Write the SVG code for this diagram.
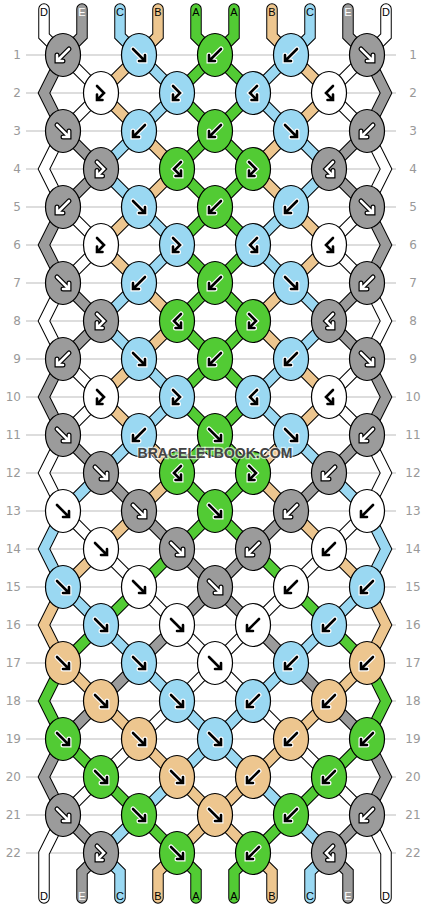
<svg xmlns="http://www.w3.org/2000/svg" xmlns:xlink="http://www.w3.org/1999/xlink" width="430" height="908" viewBox="0 0 430 908">
<style>
.grid{stroke:#bbb;stroke-width:1;fill:none}
.ol{stroke:#000;stroke-width:11.5;fill:none;stroke-linecap:round;stroke-linejoin:miter}
.sw,.se,.sc,.sb,.sa{stroke-width:9.5;fill:none;stroke-linecap:round;stroke-linejoin:miter}
.sw{stroke:#fff}.se{stroke:#9b9b9b}.sc{stroke:#9ad8f2}.sb{stroke:#edc68f}.sa{stroke:#52cb34}
.w{fill:#fff}.g{fill:#9b9b9b}.b{fill:#9ad8f2}.t{fill:#edc68f}.a{fill:#52cb34}
.u{fill:none;stroke-width:5;stroke-linecap:round;stroke-linejoin:miter}
.o{fill:none;stroke-width:2.6;stroke-linecap:round;stroke-linejoin:miter}
.kw{stroke:#fff}.kk{stroke:#000}
.num{font-family:"DejaVu Sans",sans-serif;font-size:12px;fill:#999}
.nl{text-anchor:end}.nr{text-anchor:middle}
.lab{font-family:"Liberation Sans",Arial,sans-serif;font-size:11px;text-anchor:middle;fill:#000}
.lw{fill:#fff}
.wm{font-family:"Liberation Sans",Arial,sans-serif;font-weight:bold;font-size:14px;text-anchor:middle;fill:#444;stroke:#fff;stroke-opacity:0.6;stroke-width:2.5;paint-order:stroke}
</style>
<defs>
<ellipse id="kn" rx="17.5" ry="21.5" stroke="#000" stroke-width="1.2"/>
<path id="pF" d="M-6,-6 L5,5 M6,0 V6 H0"/>
<path id="pB" d="M6,-6 L-5,5 M-6,0 V6 H0"/>
<path id="pFB" d="M-4,-7 L3,0 L-3.3,6.3 M-4,1.5 V7 H1.5"/>
<path id="pBF" d="M4,-7 L-3,0 L3.3,6.3 M4,1.5 V7 H-1.5"/>
<g id="Fl"><use href="#pF" class="u kw"/><use href="#pF" class="o kk"/></g>
<g id="Bl"><use href="#pB" class="u kw"/><use href="#pB" class="o kk"/></g>
<g id="FBl"><use href="#pFB" class="u kw"/><use href="#pFB" class="o kk"/></g>
<g id="BFl"><use href="#pBF" class="u kw"/><use href="#pBF" class="o kk"/></g>
<g id="Fd"><use href="#pF" class="u kk"/><use href="#pF" class="o kw"/></g>
<g id="Bd"><use href="#pB" class="u kk"/><use href="#pB" class="o kw"/></g>
<g id="FBd"><use href="#pFB" class="u kk"/><use href="#pFB" class="o kw"/></g>
<g id="BFd"><use href="#pBF" class="u kk"/><use href="#pBF" class="o kw"/></g>
</defs>
<rect width="430" height="908" fill="#fff"/>
<g id="grid">
<path class="grid" d="M26,55H396M26,93H396M26,131H396M26,169H396M26,207H396M26,245H396M26,283H396M26,321H396M26,359H396M26,397H396M26,435H396M26,473H396M26,511H396M26,549H396M26,587H396M26,625H396M26,663H396M26,701H396M26,739H396M26,777H396M26,815H396M26,853H396"/>
</g>
<g id="row-numbers" class="num">
<text class="nl" x="21" y="59">1</text><text class="nl" x="21" y="97">2</text><text class="nl" x="21" y="135">3</text><text class="nl" x="21" y="173">4</text><text class="nl" x="21" y="211">5</text><text class="nl" x="21" y="249">6</text><text class="nl" x="21" y="287">7</text><text class="nl" x="21" y="325">8</text><text class="nl" x="21" y="363">9</text><text class="nl" x="21" y="401">10</text><text class="nl" x="21" y="439">11</text><text class="nl" x="21" y="477">12</text><text class="nl" x="21" y="515">13</text><text class="nl" x="21" y="553">14</text><text class="nl" x="21" y="591">15</text><text class="nl" x="21" y="629">16</text><text class="nl" x="21" y="667">17</text><text class="nl" x="21" y="705">18</text><text class="nl" x="21" y="743">19</text><text class="nl" x="21" y="781">20</text><text class="nl" x="21" y="819">21</text><text class="nl" x="21" y="857">22</text>
<text class="nr" x="413" y="59">1</text><text class="nr" x="413" y="97">2</text><text class="nr" x="413" y="135">3</text><text class="nr" x="413" y="173">4</text><text class="nr" x="413" y="211">5</text><text class="nr" x="413" y="249">6</text><text class="nr" x="413" y="287">7</text><text class="nr" x="413" y="325">8</text><text class="nr" x="413" y="363">9</text><text class="nr" x="413" y="401">10</text><text class="nr" x="413" y="439">11</text><text class="nr" x="413" y="477">12</text><text class="nr" x="413" y="515">13</text><text class="nr" x="413" y="553">14</text><text class="nr" x="413" y="591">15</text><text class="nr" x="413" y="629">16</text><text class="nr" x="413" y="667">17</text><text class="nr" x="413" y="705">18</text><text class="nr" x="413" y="743">19</text><text class="nr" x="413" y="781">20</text><text class="nr" x="413" y="819">21</text><text class="nr" x="413" y="857">22</text>
</g>
<g id="connectors">
<g class="ol">
<use href="#s0"/><use href="#s1"/><use href="#s2"/><use href="#s3"/><use href="#s4"/><use href="#s5"/><use href="#s6"/><use href="#s7"/><use href="#s8"/><use href="#s9"/>
</g>
<g class="sw">
<path id="s0" d="M44,9 V36 L63,55 L101,93 L63,131 L44,169 L63,207 L101,245 L63,283 L44,321 L63,359 L101,397 L63,435 L44,473 L63,511 L101,549 L139,587 L177,625 L215,663 L253,701 L291,739 L329,777 L367,815 L386,853 V898"/>
<path id="s9" d="M386,9 V36 L367,55 L329,93 L367,131 L386,169 L367,207 L329,245 L367,283 L386,321 L367,359 L329,397 L367,435 L386,473 L367,511 L329,549 L291,587 L253,625 L215,663 L177,701 L139,739 L101,777 L63,815 L44,853 V898"/>
</g>
<g class="se">
<path id="s1" d="M82,9 V36 L63,55 L44,93 L63,131 L101,169 L63,207 L44,245 L63,283 L101,321 L63,359 L44,397 L63,435 L101,473 L139,511 L177,549 L215,587 L253,625 L291,663 L329,701 L367,739 L386,777 L367,815 L329,853 L348,872 V898"/>
<path id="s8" d="M348,9 V36 L367,55 L386,93 L367,131 L329,169 L367,207 L386,245 L367,283 L329,321 L367,359 L386,397 L367,435 L329,473 L291,511 L253,549 L215,587 L177,625 L139,663 L101,701 L63,739 L44,777 L63,815 L101,853 L82,872 V898"/>
</g>
<g class="sc">
<path id="s2" d="M120,9 V36 L139,55 L177,93 L139,131 L101,169 L139,207 L177,245 L139,283 L101,321 L139,359 L177,397 L139,435 L101,473 L63,511 L44,549 L63,587 L101,625 L139,663 L177,701 L215,739 L253,777 L291,815 L329,853 L310,872 V898"/>
<path id="s7" d="M310,9 V36 L291,55 L253,93 L291,131 L329,169 L291,207 L253,245 L291,283 L329,321 L291,359 L253,397 L291,435 L329,473 L367,511 L386,549 L367,587 L329,625 L291,663 L253,701 L215,739 L177,777 L139,815 L101,853 L120,872 V898"/>
</g>
<g class="sb">
<path id="s3" d="M158,9 V36 L139,55 L101,93 L139,131 L177,169 L139,207 L101,245 L139,283 L177,321 L139,359 L101,397 L139,435 L177,473 L139,511 L101,549 L63,587 L44,625 L63,663 L101,701 L139,739 L177,777 L215,815 L253,853 L272,872 V898"/>
<path id="s6" d="M272,9 V36 L291,55 L329,93 L291,131 L253,169 L291,207 L329,245 L291,283 L253,321 L291,359 L329,397 L291,435 L253,473 L291,511 L329,549 L367,587 L386,625 L367,663 L329,701 L291,739 L253,777 L215,815 L177,853 L158,872 V898"/>
</g>
<g class="sa">
<path id="s4" d="M196,9 V36 L215,55 L253,93 L215,131 L177,169 L215,207 L253,245 L215,283 L177,321 L215,359 L253,397 L215,435 L177,473 L215,511 L253,549 L291,587 L329,625 L367,663 L386,701 L367,739 L329,777 L291,815 L253,853 L234,872 V898"/>
<path id="s5" d="M234,9 V36 L215,55 L177,93 L215,131 L253,169 L215,207 L177,245 L215,283 L253,321 L215,359 L177,397 L215,435 L253,473 L215,511 L177,549 L139,587 L101,625 L63,663 L44,701 L63,739 L101,777 L139,815 L177,853 L196,872 V898"/>
</g>
</g>
<g id="string-labels" class="lab">
<text x="44" y="16">D</text><text x="82" y="16" class="lw">E</text><text x="120" y="16">C</text><text x="158" y="16">B</text><text x="196" y="16">A</text><text x="234" y="16">A</text><text x="272" y="16">B</text><text x="310" y="16">C</text><text x="348" y="16" class="lw">E</text><text x="386" y="16">D</text>
<text x="44" y="900">D</text><text x="82" y="900" class="lw">E</text><text x="120" y="900">C</text><text x="158" y="900">B</text><text x="196" y="900">A</text><text x="234" y="900">A</text><text x="272" y="900">B</text><text x="310" y="900">C</text><text x="348" y="900" class="lw">E</text><text x="386" y="900">D</text>
</g>
<g id="knots">
<g id="k1_1"><use href="#kn" x="63" y="55" class="g"/><use href="#Bd" x="63" y="55"/></g>
<g id="k1_2"><use href="#kn" x="139" y="55" class="b"/><use href="#Fl" x="139" y="55"/></g>
<g id="k1_3"><use href="#kn" x="215" y="55" class="a"/><use href="#Bl" x="215" y="55"/></g>
<g id="k1_4"><use href="#kn" x="291" y="55" class="b"/><use href="#Bl" x="291" y="55"/></g>
<g id="k1_5"><use href="#kn" x="367" y="55" class="g"/><use href="#Fd" x="367" y="55"/></g>
<g id="k2_1"><use href="#kn" x="101" y="93" class="w"/><use href="#FBl" x="101" y="93"/></g>
<g id="k2_2"><use href="#kn" x="177" y="93" class="b"/><use href="#FBl" x="177" y="93"/></g>
<g id="k2_3"><use href="#kn" x="253" y="93" class="b"/><use href="#BFl" x="253" y="93"/></g>
<g id="k2_4"><use href="#kn" x="329" y="93" class="w"/><use href="#BFl" x="329" y="93"/></g>
<g id="k3_1"><use href="#kn" x="63" y="131" class="g"/><use href="#Fd" x="63" y="131"/></g>
<g id="k3_2"><use href="#kn" x="139" y="131" class="b"/><use href="#Bl" x="139" y="131"/></g>
<g id="k3_3"><use href="#kn" x="215" y="131" class="a"/><use href="#Bl" x="215" y="131"/></g>
<g id="k3_4"><use href="#kn" x="291" y="131" class="b"/><use href="#Fl" x="291" y="131"/></g>
<g id="k3_5"><use href="#kn" x="367" y="131" class="g"/><use href="#Bd" x="367" y="131"/></g>
<g id="k4_1"><use href="#kn" x="101" y="169" class="g"/><use href="#FBd" x="101" y="169"/></g>
<g id="k4_2"><use href="#kn" x="177" y="169" class="a"/><use href="#BFl" x="177" y="169"/></g>
<g id="k4_3"><use href="#kn" x="253" y="169" class="a"/><use href="#FBl" x="253" y="169"/></g>
<g id="k4_4"><use href="#kn" x="329" y="169" class="g"/><use href="#BFd" x="329" y="169"/></g>
<g id="k5_1"><use href="#kn" x="63" y="207" class="g"/><use href="#Bd" x="63" y="207"/></g>
<g id="k5_2"><use href="#kn" x="139" y="207" class="b"/><use href="#Fl" x="139" y="207"/></g>
<g id="k5_3"><use href="#kn" x="215" y="207" class="a"/><use href="#Bl" x="215" y="207"/></g>
<g id="k5_4"><use href="#kn" x="291" y="207" class="b"/><use href="#Bl" x="291" y="207"/></g>
<g id="k5_5"><use href="#kn" x="367" y="207" class="g"/><use href="#Fd" x="367" y="207"/></g>
<g id="k6_1"><use href="#kn" x="101" y="245" class="w"/><use href="#FBl" x="101" y="245"/></g>
<g id="k6_2"><use href="#kn" x="177" y="245" class="b"/><use href="#FBl" x="177" y="245"/></g>
<g id="k6_3"><use href="#kn" x="253" y="245" class="b"/><use href="#BFl" x="253" y="245"/></g>
<g id="k6_4"><use href="#kn" x="329" y="245" class="w"/><use href="#BFl" x="329" y="245"/></g>
<g id="k7_1"><use href="#kn" x="63" y="283" class="g"/><use href="#Fd" x="63" y="283"/></g>
<g id="k7_2"><use href="#kn" x="139" y="283" class="b"/><use href="#Bl" x="139" y="283"/></g>
<g id="k7_3"><use href="#kn" x="215" y="283" class="a"/><use href="#Bl" x="215" y="283"/></g>
<g id="k7_4"><use href="#kn" x="291" y="283" class="b"/><use href="#Fl" x="291" y="283"/></g>
<g id="k7_5"><use href="#kn" x="367" y="283" class="g"/><use href="#Bd" x="367" y="283"/></g>
<g id="k8_1"><use href="#kn" x="101" y="321" class="g"/><use href="#FBd" x="101" y="321"/></g>
<g id="k8_2"><use href="#kn" x="177" y="321" class="a"/><use href="#BFl" x="177" y="321"/></g>
<g id="k8_3"><use href="#kn" x="253" y="321" class="a"/><use href="#FBl" x="253" y="321"/></g>
<g id="k8_4"><use href="#kn" x="329" y="321" class="g"/><use href="#BFd" x="329" y="321"/></g>
<g id="k9_1"><use href="#kn" x="63" y="359" class="g"/><use href="#Bd" x="63" y="359"/></g>
<g id="k9_2"><use href="#kn" x="139" y="359" class="b"/><use href="#Fl" x="139" y="359"/></g>
<g id="k9_3"><use href="#kn" x="215" y="359" class="a"/><use href="#Bl" x="215" y="359"/></g>
<g id="k9_4"><use href="#kn" x="291" y="359" class="b"/><use href="#Bl" x="291" y="359"/></g>
<g id="k9_5"><use href="#kn" x="367" y="359" class="g"/><use href="#Fd" x="367" y="359"/></g>
<g id="k10_1"><use href="#kn" x="101" y="397" class="w"/><use href="#FBl" x="101" y="397"/></g>
<g id="k10_2"><use href="#kn" x="177" y="397" class="b"/><use href="#FBl" x="177" y="397"/></g>
<g id="k10_3"><use href="#kn" x="253" y="397" class="b"/><use href="#BFl" x="253" y="397"/></g>
<g id="k10_4"><use href="#kn" x="329" y="397" class="w"/><use href="#BFl" x="329" y="397"/></g>
<g id="k11_1"><use href="#kn" x="63" y="435" class="g"/><use href="#Fd" x="63" y="435"/></g>
<g id="k11_2"><use href="#kn" x="139" y="435" class="b"/><use href="#Bl" x="139" y="435"/></g>
<g id="k11_3"><use href="#kn" x="215" y="435" class="a"/><use href="#Fl" x="215" y="435"/></g>
<g id="k11_4"><use href="#kn" x="291" y="435" class="b"/><use href="#Fl" x="291" y="435"/></g>
<g id="k11_5"><use href="#kn" x="367" y="435" class="g"/><use href="#Bd" x="367" y="435"/></g>
<g id="k12_1"><use href="#kn" x="101" y="473" class="g"/><use href="#Fd" x="101" y="473"/></g>
<g id="k12_2"><use href="#kn" x="177" y="473" class="a"/><use href="#BFl" x="177" y="473"/></g>
<g id="k12_3"><use href="#kn" x="253" y="473" class="a"/><use href="#FBl" x="253" y="473"/></g>
<g id="k12_4"><use href="#kn" x="329" y="473" class="g"/><use href="#Bd" x="329" y="473"/></g>
<g id="k13_1"><use href="#kn" x="63" y="511" class="w"/><use href="#Fl" x="63" y="511"/></g>
<g id="k13_2"><use href="#kn" x="139" y="511" class="g"/><use href="#Fd" x="139" y="511"/></g>
<g id="k13_3"><use href="#kn" x="215" y="511" class="a"/><use href="#Fl" x="215" y="511"/></g>
<g id="k13_4"><use href="#kn" x="291" y="511" class="g"/><use href="#Bd" x="291" y="511"/></g>
<g id="k13_5"><use href="#kn" x="367" y="511" class="w"/><use href="#Bl" x="367" y="511"/></g>
<g id="k14_1"><use href="#kn" x="101" y="549" class="w"/><use href="#Fl" x="101" y="549"/></g>
<g id="k14_2"><use href="#kn" x="177" y="549" class="g"/><use href="#Fd" x="177" y="549"/></g>
<g id="k14_3"><use href="#kn" x="253" y="549" class="g"/><use href="#Bd" x="253" y="549"/></g>
<g id="k14_4"><use href="#kn" x="329" y="549" class="w"/><use href="#Bl" x="329" y="549"/></g>
<g id="k15_1"><use href="#kn" x="63" y="587" class="b"/><use href="#Fl" x="63" y="587"/></g>
<g id="k15_2"><use href="#kn" x="139" y="587" class="w"/><use href="#Fl" x="139" y="587"/></g>
<g id="k15_3"><use href="#kn" x="215" y="587" class="g"/><use href="#Fd" x="215" y="587"/></g>
<g id="k15_4"><use href="#kn" x="291" y="587" class="w"/><use href="#Bl" x="291" y="587"/></g>
<g id="k15_5"><use href="#kn" x="367" y="587" class="b"/><use href="#Bl" x="367" y="587"/></g>
<g id="k16_1"><use href="#kn" x="101" y="625" class="b"/><use href="#Fl" x="101" y="625"/></g>
<g id="k16_2"><use href="#kn" x="177" y="625" class="w"/><use href="#Fl" x="177" y="625"/></g>
<g id="k16_3"><use href="#kn" x="253" y="625" class="w"/><use href="#Bl" x="253" y="625"/></g>
<g id="k16_4"><use href="#kn" x="329" y="625" class="b"/><use href="#Bl" x="329" y="625"/></g>
<g id="k17_1"><use href="#kn" x="63" y="663" class="t"/><use href="#Fl" x="63" y="663"/></g>
<g id="k17_2"><use href="#kn" x="139" y="663" class="b"/><use href="#Fl" x="139" y="663"/></g>
<g id="k17_3"><use href="#kn" x="215" y="663" class="w"/><use href="#Fl" x="215" y="663"/></g>
<g id="k17_4"><use href="#kn" x="291" y="663" class="b"/><use href="#Bl" x="291" y="663"/></g>
<g id="k17_5"><use href="#kn" x="367" y="663" class="t"/><use href="#Bl" x="367" y="663"/></g>
<g id="k18_1"><use href="#kn" x="101" y="701" class="t"/><use href="#Fl" x="101" y="701"/></g>
<g id="k18_2"><use href="#kn" x="177" y="701" class="b"/><use href="#Fl" x="177" y="701"/></g>
<g id="k18_3"><use href="#kn" x="253" y="701" class="b"/><use href="#Bl" x="253" y="701"/></g>
<g id="k18_4"><use href="#kn" x="329" y="701" class="t"/><use href="#Bl" x="329" y="701"/></g>
<g id="k19_1"><use href="#kn" x="63" y="739" class="a"/><use href="#Fl" x="63" y="739"/></g>
<g id="k19_2"><use href="#kn" x="139" y="739" class="t"/><use href="#Fl" x="139" y="739"/></g>
<g id="k19_3"><use href="#kn" x="215" y="739" class="b"/><use href="#Fl" x="215" y="739"/></g>
<g id="k19_4"><use href="#kn" x="291" y="739" class="t"/><use href="#Bl" x="291" y="739"/></g>
<g id="k19_5"><use href="#kn" x="367" y="739" class="a"/><use href="#Bl" x="367" y="739"/></g>
<g id="k20_1"><use href="#kn" x="101" y="777" class="a"/><use href="#Fl" x="101" y="777"/></g>
<g id="k20_2"><use href="#kn" x="177" y="777" class="t"/><use href="#Fl" x="177" y="777"/></g>
<g id="k20_3"><use href="#kn" x="253" y="777" class="t"/><use href="#Bl" x="253" y="777"/></g>
<g id="k20_4"><use href="#kn" x="329" y="777" class="a"/><use href="#Bl" x="329" y="777"/></g>
<g id="k21_1"><use href="#kn" x="63" y="815" class="g"/><use href="#Fd" x="63" y="815"/></g>
<g id="k21_2"><use href="#kn" x="139" y="815" class="a"/><use href="#Fl" x="139" y="815"/></g>
<g id="k21_3"><use href="#kn" x="215" y="815" class="t"/><use href="#Fl" x="215" y="815"/></g>
<g id="k21_4"><use href="#kn" x="291" y="815" class="a"/><use href="#Bl" x="291" y="815"/></g>
<g id="k21_5"><use href="#kn" x="367" y="815" class="g"/><use href="#Bd" x="367" y="815"/></g>
<g id="k22_1"><use href="#kn" x="101" y="853" class="g"/><use href="#FBd" x="101" y="853"/></g>
<g id="k22_2"><use href="#kn" x="177" y="853" class="a"/><use href="#Fl" x="177" y="853"/></g>
<g id="k22_3"><use href="#kn" x="253" y="853" class="a"/><use href="#Bl" x="253" y="853"/></g>
<g id="k22_4"><use href="#kn" x="329" y="853" class="g"/><use href="#BFd" x="329" y="853"/></g>
</g>
<g id="watermark"><text class="wm" x="215" y="458">BRACELETBOOK.COM</text></g>
</svg>
